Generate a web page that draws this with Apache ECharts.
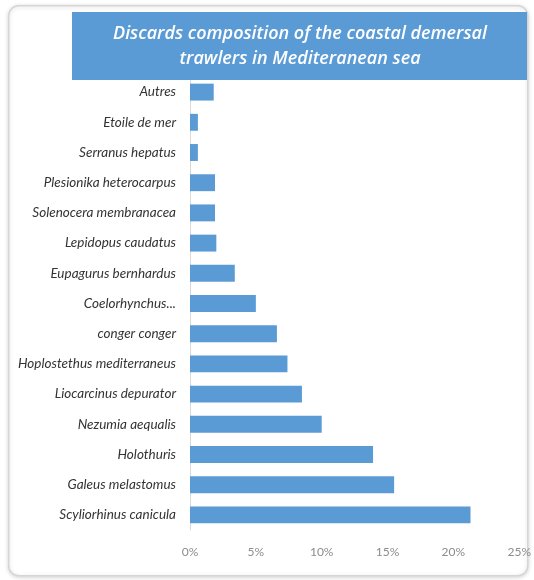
<!DOCTYPE html>
<html>
<head>
<meta charset="utf-8">
<script src="https://cdn.jsdelivr.net/npm/echarts@6/dist/echarts.min.js"></script>
<style>
html,body{margin:0;padding:0;background:#ffffff;}
#chart{width:534px;height:580px;}
</style>
</head>
<body>
<div id="chart"></div>
<script>
const titleLines = ["Discards composition of the coastal demersal", "trawlers in Mediteranean sea"];
const categories = [
  "Autres", "Etoile de mer", "Serranus hepatus", "Plesionika heterocarpus",
  "Solenocera membranacea", "Lepidopus caudatus", "Eupagurus bernhardus",
  "Coelorhynchus...", "conger conger", "Hoplostethus mediterraneus",
  "Liocarcinus depurator", "Nezumia aequalis", "Holothuris",
  "Galeus melastomus", "Scyliorhinus canicula"
];
const values = [1.8, 0.6, 0.6, 1.9, 1.9, 2.0, 3.4, 5.0, 6.6, 7.4, 8.5, 10.0, 13.9, 15.5, 21.3];
const xTicks = [0, 5, 10, 15, 20, 25];

const chart = echarts.init(document.getElementById('chart'), null, {renderer: 'canvas'});
const labelFont = "'Liberation Sans Narrow', 'Lato', 'Open Sans', sans-serif";
chart.setOption({
  backgroundColor: '#ffffff',
  animation: false,
  graphic: [
    {
      type: 'rect', left: 8, top: 5, z: -10,
      shape: {width: 519, height: 570, r: 10},
      style: {fill: '#ffffff', stroke: '#d6d6d6', lineWidth: 1.5,
              shadowBlur: 4, shadowColor: 'rgba(0,0,0,0.15)', shadowOffsetY: 1}
    },
    {
      type: 'rect', left: 72, top: 12, z: 1,
      shape: {width: 455, height: 68},
      style: {fill: '#5b9bd5'}
    },
    {
      type: 'text', z: 2,
      style: {
        x: 300, y: 21,
        text: titleLines.join('\n'),
        fill: '#ffffff', font: "italic 600 18px 'Open Sans', 'Noto Sans', sans-serif",
        align: 'center', verticalAlign: 'top', lineHeight: 25
      }
    }
  ],
  grid: {left: 190, right: 14, top: 77, bottom: 50, containLabel: false},
  xAxis: {
    type: 'value', min: xTicks[0], max: xTicks[xTicks.length - 1], interval: 5,
    axisLine: {show: false}, axisTick: {show: false}, splitLine: {show: false},
    axisLabel: {formatter: '{value}%', color: '#8c8c8c', fontSize: 12, margin: 16,
                fontFamily: labelFont}
  },
  yAxis: {
    type: 'category', data: categories, inverse: true,
    axisLine: {show: true, lineStyle: {color: '#d9d9d9', width: 1}},
    axisTick: {show: false},
    axisLabel: {color: '#333333', fontSize: 13.5, fontStyle: 'italic', margin: 14,
                fontFamily: labelFont}
  },
  series: [{
    type: 'bar', data: values, barCategoryGap: '44%',
    itemStyle: {color: '#5b9bd5'}
  }]
});
</script>
</body>
</html>
